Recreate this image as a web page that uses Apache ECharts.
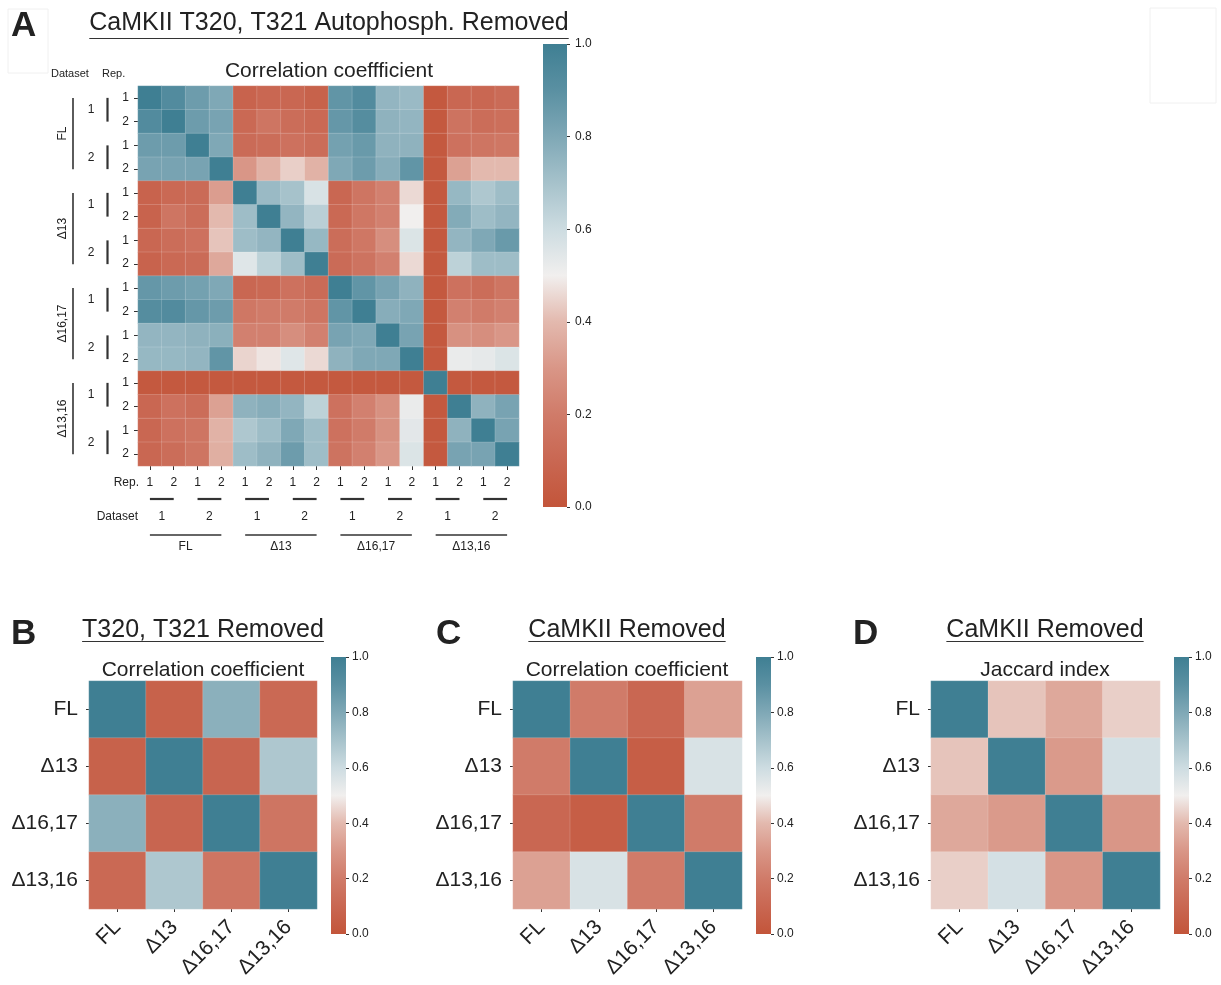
<!DOCTYPE html>
<html><head><meta charset="utf-8">
<script src="https://cdn.jsdelivr.net/npm/echarts@6/dist/echarts.min.js"></script>
<style>html,body{margin:0;padding:0;background:#fff;}#c{width:1221px;height:985px;}</style>
</head><body><div id="c"></div>
<script>
// ---------------- DATA ----------------
const groups = ['FL', 'Δ13', 'Δ16,17', 'Δ13,16'];
const datasets = ['1', '2'];
const reps = ['1', '2'];
const colorbarTicks = [0, 0.2, 0.4, 0.6, 0.8, 1.0];

const matA = [
  [1.00,0.93,0.85,0.80,0.08,0.10,0.10,0.07,0.88,0.93,0.75,0.73,0.02,0.10,0.10,0.12],
  [0.93,1.00,0.85,0.82,0.11,0.17,0.13,0.11,0.87,0.92,0.76,0.75,0.02,0.16,0.13,0.14],
  [0.85,0.85,1.00,0.80,0.12,0.13,0.15,0.13,0.83,0.86,0.76,0.76,0.02,0.15,0.17,0.18],
  [0.82,0.82,0.82,1.00,0.30,0.38,0.44,0.38,0.80,0.85,0.78,0.88,0.02,0.33,0.40,0.40],
  [0.08,0.11,0.12,0.32,1.00,0.73,0.70,0.57,0.10,0.17,0.22,0.46,0.02,0.74,0.68,0.72],
  [0.08,0.17,0.13,0.40,0.72,1.00,0.75,0.65,0.11,0.18,0.22,0.50,0.02,0.79,0.72,0.75],
  [0.10,0.13,0.15,0.42,0.72,0.75,1.00,0.74,0.13,0.18,0.27,0.56,0.02,0.75,0.80,0.86],
  [0.08,0.11,0.12,0.35,0.55,0.64,0.72,1.00,0.12,0.16,0.22,0.46,0.02,0.64,0.72,0.72],
  [0.87,0.85,0.83,0.80,0.10,0.11,0.15,0.12,1.00,0.88,0.82,0.76,0.02,0.15,0.13,0.17],
  [0.92,0.93,0.87,0.85,0.18,0.20,0.20,0.17,0.88,1.00,0.78,0.80,0.02,0.22,0.20,0.22],
  [0.75,0.75,0.76,0.77,0.22,0.22,0.27,0.22,0.82,0.80,1.00,0.82,0.02,0.28,0.27,0.30],
  [0.74,0.74,0.75,0.88,0.45,0.48,0.55,0.46,0.76,0.80,0.80,1.00,0.02,0.52,0.53,0.56],
  [0.02,0.02,0.02,0.02,0.02,0.02,0.02,0.02,0.02,0.02,0.02,0.02,1.00,0.02,0.02,0.02],
  [0.10,0.15,0.13,0.33,0.76,0.78,0.75,0.64,0.15,0.22,0.28,0.52,0.02,1.00,0.76,0.82],
  [0.10,0.15,0.17,0.38,0.68,0.72,0.80,0.72,0.15,0.20,0.28,0.54,0.02,0.76,1.00,0.82],
  [0.10,0.13,0.17,0.37,0.72,0.76,0.85,0.72,0.16,0.22,0.30,0.56,0.02,0.82,0.82,1.00]
];
const matB = [
  [1.00,0.07,0.77,0.11],
  [0.07,1.00,0.09,0.68],
  [0.77,0.09,1.00,0.17],
  [0.11,0.68,0.17,1.00]
];
const matC = [
  [1.00,0.20,0.10,0.33],
  [0.20,1.00,0.05,0.57],
  [0.10,0.05,1.00,0.20],
  [0.33,0.57,0.20,1.00]
];
const matD = [
  [1.00,0.42,0.35,0.44],
  [0.42,1.00,0.31,0.58],
  [0.35,0.31,1.00,0.30],
  [0.44,0.58,0.30,1.00]
];
const paletteColors = ['#c3553a','#c96752','#d07b69','#d99687','#e3b9ae','#f1efee',
                       '#cddce1','#a6c2cb','#7fa8b6','#5a90a2','#3f7f93'];

const titleA = 'CaMKII T320, T321 Autophosph. Removed';
const subA = 'Correlation coeffficient';
const panelTitles = ['T320, T321 Removed', 'CaMKII Removed', 'CaMKII Removed'];
const panelSubs = ['Correlation coefficient', 'Correlation coefficient', 'Jaccard index'];
const panelLetters = ['A', 'B', 'C', 'D'];

// ---------------- CHART ----------------
const FONT = '"Liberation Sans", Arial, sans-serif';
const TXT = '#222';
const chart = echarts.init(document.getElementById('c'), null, {renderer: 'canvas'});

const repIds = [];
groups.forEach((g, gi) => datasets.forEach((d, di) => reps.forEach((r, ri) => repIds.push(gi + '|' + di + '|' + r))));
const repFmt = v => v.split('|')[2];

function toData(mat) {
  const out = [];
  mat.forEach((row, i) => row.forEach((v, j) => out.push([j, i, v])));
  return out;
}

const heatGrids = [
  {left: 138, top: 86, width: 381, height: 380},
  {left: 89, top: 681, width: 228, height: 228},
  {left: 513, top: 681, width: 229, height: 228},
  {left: 931, top: 681, width: 229, height: 228}
];
const cbGrids = [
  {left: 543, top: 44, width: 24, height: 463},
  {left: 331, top: 657, width: 15, height: 277},
  {left: 756, top: 657, width: 15, height: 277},
  {left: 1174, top: 657, width: 15, height: 277}
];

const grid = heatGrids.concat(cbGrids);
const xAxis = [], yAxis = [], series = [];

// Panel A axes
xAxis.push({type: 'category', gridIndex: 0, data: repIds, position: 'bottom',
  axisLine: {show: false}, axisTick: {show: true, length: 4, lineStyle: {color: '#333'}, alignWithLabel: true},
  axisLabel: {formatter: repFmt, fontSize: 12, color: TXT, fontFamily: FONT, margin: 11},
  splitLine: {show: false}});
yAxis.push({type: 'category', gridIndex: 0, data: repIds, inverse: true,
  axisLine: {show: false}, axisTick: {show: true, length: 4, lineStyle: {color: '#333'}, alignWithLabel: true},
  axisLabel: {formatter: repFmt, fontSize: 12, color: TXT, fontFamily: FONT, margin: 9},
  splitLine: {show: false}});
// Panels B-D axes
for (let k = 1; k < 4; k++) {
  xAxis.push({type: 'category', gridIndex: k, data: groups,
    axisLine: {show: false}, axisTick: {show: true, length: 3, lineStyle: {color: '#333'}, alignWithLabel: true},
    axisLabel: {rotate: 45, fontSize: 21, color: TXT, fontFamily: FONT, margin: 15, interval: 0},
    splitLine: {show: false}});
  yAxis.push({type: 'category', gridIndex: k, data: groups, inverse: true,
    axisLine: {show: false}, axisTick: {show: true, length: 3, lineStyle: {color: '#333'}, alignWithLabel: true},
    axisLabel: {fontSize: 21, color: TXT, fontFamily: FONT, margin: 11, interval: 0},
    splitLine: {show: false}});
}
// Colorbar axes
const stops = paletteColors.map((c, i) => ({offset: i / (paletteColors.length - 1), color: c}));
for (let k = 0; k < 4; k++) {
  xAxis.push({type: 'category', gridIndex: 4 + k, data: ['cb'], show: false});
  yAxis.push({type: 'value', gridIndex: 4 + k, min: colorbarTicks[0], max: colorbarTicks[colorbarTicks.length - 1],
    interval: 0.2, position: 'right',
    axisLine: {show: false}, axisTick: {show: true, length: 3, lineStyle: {color: '#333'}},
    axisLabel: {formatter: v => v.toFixed(1), fontSize: 12, color: TXT, fontFamily: FONT, margin: k === 0 ? 8 : 6},
    splitLine: {show: false}});
}

const mats = [matA, matB, matC, matD];
mats.forEach((m, k) => {
  series.push({type: 'heatmap', xAxisIndex: k, yAxisIndex: k, data: toData(m),
    itemStyle: {borderColor: 'rgba(255,255,255,0.28)', borderWidth: 0.6},
    emphasis: {disabled: true}, silent: true});
});
for (let k = 0; k < 4; k++) {
  series.push({type: 'bar', xAxisIndex: 4 + k, yAxisIndex: 4 + k, data: [colorbarTicks[colorbarTicks.length - 1]],
    barWidth: '100%', silent: true,
    itemStyle: {color: new echarts.graphic.LinearGradient(0, 1, 0, 0, stops)}});
}

chart.setOption({
  animation: false,
  backgroundColor: '#fff',
  grid, xAxis, yAxis, series,
  visualMap: {type: 'continuous', show: false, min: 0, max: 1, seriesIndex: [0, 1, 2, 3],
    inRange: {color: paletteColors}}
});

// ---------------- ANNOTATIONS ----------------
const ctx = document.createElement('canvas').getContext('2d');
function textW(t, font) { ctx.font = font; return ctx.measureText(t).width; }
const g = [];
function txt(t, x, y, size, opts) {
  opts = opts || {};
  g.push({type: 'text', x: x, y: y, rotation: opts.rotation || 0, silent: true,
    style: {text: t, fill: opts.fill || TXT, font: (opts.bold ? 'bold ' : '') + size + 'px ' + FONT,
      textAlign: opts.align || 'center', textVerticalAlign: 'middle'}});
}
function line(x1, y1, x2, y2, w, color) {
  g.push({type: 'line', silent: true, shape: {x1, y1, x2, y2}, style: {stroke: color || '#333', lineWidth: w}});
}

// faint frames from the source figure
g.push({type: 'rect', silent: true, shape: {x: 8, y: 9, width: 40, height: 64}, style: {fill: 'none', stroke: '#f0f0f0', lineWidth: 1}});
g.push({type: 'rect', silent: true, shape: {x: 1150, y: 8, width: 66, height: 95}, style: {fill: 'none', stroke: '#f0f0f0', lineWidth: 1}});

// Panel A titles
txt(panelLetters[0], 11, 26, 35, {bold: true, align: 'left'});
txt(titleA, 329, 23, 25);
{ const w = textW(titleA, '25px ' + FONT); line(329 - w / 2, 38.5, 329 + w / 2, 38.5, 1.2, '#333'); }
txt(subA, 329, 71, 21);

// Hierarchical labels for panel A
const P = (c, r) => chart.convertToPixel({gridIndex: 0}, [c, r]);
const cell = P(1, 1)[0] - P(0, 0)[0];
const cellY = P(1, 1)[1] - P(0, 0)[1];
txt('Dataset', 51, 74, 11, {align: 'left'});
txt('Rep.', 102, 74, 11, {align: 'left'});
txt('Rep.', 139, 483, 12, {align: 'right'});
txt('Dataset', 138, 517, 12, {align: 'right'});
for (let p = 0; p < groups.length * datasets.length; p++) {
  const cy = (P(0, 2 * p)[1] + P(0, 2 * p + 1)[1]) / 2;
  const cx = (P(2 * p, 0)[0] + P(2 * p + 1, 0)[0]) / 2;
  const lab = datasets[p % datasets.length];
  txt(lab, 91, cy, 12);
  line(107.5, cy - cellY / 2, 107.5, cy + cellY / 2, 2.2, '#333');
  txt(lab, cx, 517, 12);
  line(cx - cell / 2, 499, cx + cell / 2, 499, 2.2, '#333');
}
groups.forEach((name, gi) => {
  const cy = (P(0, 4 * gi + 1)[1] + P(0, 4 * gi + 2)[1]) / 2;
  const cx = (P(4 * gi + 1, 0)[0] + P(4 * gi + 2, 0)[0]) / 2;
  txt(name, 63, cy, 12, {rotation: Math.PI / 2});
  line(73, cy - 1.5 * cellY, 73, cy + 1.5 * cellY, 1.6, '#333');
  txt(name, cx, 547, 12);
  line(cx - 1.5 * cell, 535, cx + 1.5 * cell, 535, 1.6, '#333');
});

// Panels B-D titles
const letterX = [11, 436, 853];
const titleCX = [203, 627, 1045];
for (let k = 0; k < 3; k++) {
  txt(panelLetters[k + 1], letterX[k], 634, 35, {bold: true, align: 'left'});
  txt(panelTitles[k], titleCX[k], 630, 25);
  const w = textW(panelTitles[k], '25px ' + FONT);
  line(titleCX[k] - w / 2, 641.5, titleCX[k] + w / 2, 641.5, 1.2, '#333');
  txt(panelSubs[k], titleCX[k], 670, 21);
}

chart.setOption({graphic: {elements: g}});
</script>
</body></html>
